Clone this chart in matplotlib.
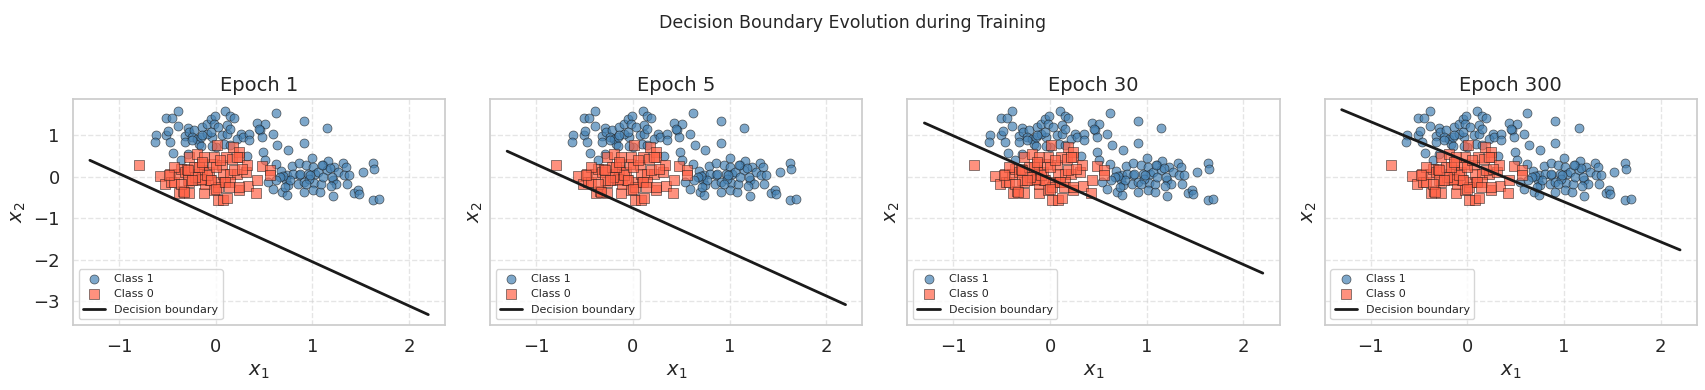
"""
Decision boundary evolution - 4 epochs, same data
"""

import numpy as np
import matplotlib.pyplot as plt
import seaborn as sns

# class 1 (blue circles)
c1_x = [-0.39, -0.51, -0.45, -0.62, -0.63, -0.51, -0.47, -0.39, -0.44, -0.32,
        -0.29, -0.28, -0.22, -0.24, -0.19, -0.17, -0.15, -0.14, -0.09, -0.05,
        -0.01, -0.02, 0.03, -0.04, 0.00, -0.04, 0.10, 0.15, 0.19, 0.07,
        0.12, 0.09, 0.15, 0.26, 0.22, 0.28, 0.35, 0.35, 0.43, 0.51,
        0.46, 0.48, 0.59, 0.62, 0.49, 0.32, 0.64, 0.75, 0.91, 0.91,
        1.15, -0.36, -0.29, -0.15, -0.09,
        -0.49, -0.32, -0.24, -0.05, 0.12, 0.15, 0.51, -0.14, 0.45,
        0.62, 0.68, 0.74, 0.73, 0.75, 0.69, 0.74, 0.59, 0.54, 0.79,
        0.86, 0.86, 0.85, 0.91, 0.91, 0.94, 1.00, 1.01, 1.03, 1.02,
        1.01, 1.08, 1.09, 1.11, 1.16, 1.15, 1.21, 1.21, 1.23, 1.27,
        1.32, 1.35, 1.33, 1.38, 1.36, 1.43, 1.47, 1.48, 1.52, 1.63,
        1.64, 1.63, 1.69, 0.80, 0.77, 0.96, 1.06, 1.18, 0.70, 0.97,
        1.11, 1.20, 0.98, 1.25, 0.67, 0.72, 1.19, 0.87, 1.10, 0.63, 0.94]
c1_y = [1.58, 1.42, 1.42, 1.00, 0.84, 1.00, 0.85, 1.22, 0.58, 0.98,
        1.17, 1.08, 1.12, 0.96, 0.92, 0.80, 0.74, 1.20, 1.28, 1.40,
        1.48, 1.28, 1.20, 0.96, 0.72, 0.74, 1.58, 1.48, 1.42, 1.00,
        1.04, 0.80, 0.76, 1.04, 0.92, 0.96, 1.04, 0.88, 1.30, 1.28,
        1.12, 0.96, 1.04, 1.54, 0.60, 0.50, 0.78, 0.66, 1.34, 0.82,
        1.18, 0.40, 0.56, 0.96, 1.04,
        1.10, 0.84, 0.88, 1.08, 1.24, 1.16, 0.40, 1.00, 1.16,
        0.30, 0.14, 0.04, -0.08, -0.20, -0.36, -0.44, -0.28, -0.12, 0.26,
        0.34, 0.04, -0.18, -0.12, -0.36, 0.28, 0.46, 0.24, 0.08, -0.14,
        -0.32, -0.36, -0.16, 0.28, 0.38, 0.16, -0.08, -0.46, 0.24, 0.12,
        0.34, 0.24, 0.04, 0.04, -0.16, -0.40, -0.32, -0.42, 0.12, 0.34,
        0.20, -0.56, -0.54, 0.08, -0.08, 0.08, 0.12, 0.22, 0.02, -0.04,
        0.00, 0.00, 0.04, -0.16, 0.00, -0.24, -0.22, 0.06, 0.28, -0.08, -0.16]

# class 0 (red squares)
c0_x = [-0.79, -0.57, -0.52, -0.47, -0.46, -0.43, -0.39, -0.38, -0.34, -0.36,
        -0.32, -0.30, -0.27, -0.27, -0.27, -0.19, -0.18, -0.16, -0.14, -0.14,
        -0.12, -0.11, -0.07, -0.06, -0.03, -0.02, -0.02, 0.01, 0.02, 0.03,
        0.07, 0.08, 0.08, 0.09, 0.11, 0.12, 0.15, 0.17, 0.18, 0.22,
        0.24, 0.24, 0.24, 0.31, 0.33, 0.34, 0.42, 0.43, 0.48, 0.56,
        0.56, -0.15, -0.22, -0.21, -0.09, 0.00, 0.05, 0.02, 0.15, 0.19,
        0.27, -0.12, -0.43, -0.29, -0.36,
        -0.33, -0.29, -0.17, -0.14, -0.05, 0.00, 0.10, 0.14, 0.22, 0.24,
        -0.24, -0.48]
c0_y = [0.28, 0.02, -0.16, 0.06, -0.12, -0.12, 0.08, -0.38, -0.34, 0.20,
        0.12, 0.20, -0.40, -0.12, 0.48, 0.56, 0.08, -0.08, 0.16, 0.32,
        -0.40, -0.16, 0.12, -0.08, 0.32, 0.48, -0.32, 0.76, -0.56, -0.12,
        0.28, 0.08, -0.56, -0.12, 0.48, -0.52, 0.08, 0.44, 0.72, 0.08,
        0.60, 0.48, -0.32, 0.12, 0.28, -0.22, -0.38, -0.08, 0.26, 0.16,
        0.04, -0.04, 0.24, 0.00, 0.04, 0.24, 0.40, -0.24, -0.12, 0.16,
        0.20, 0.48, 0.24, -0.08, -0.16,
        -0.36, 0.16, 0.24, 0.36, -0.08, -0.30, -0.12, -0.24, 0.48, -0.24,
        -0.08, 0.04]

# decision boundary endpoints per epoch
epochs = [1, 5, 30, 300]
line_x = [-1.3, 2.2]
line_y_start = [0.40, 0.62, 1.30, 1.62]
line_y_end = [-3.32, -3.08, -2.32, -1.76]

sns.set_theme(style="whitegrid")
plt.rcParams["font.family"] = ["DejaVu Sans"]

fig, axes = plt.subplots(1, 4, figsize=(17.05, 3.9), dpi=100, sharey=True)
fig.subplots_adjust(left=0.0428, right=0.9953, top=0.745, bottom=0.167, wspace=0.121)

for i, ax in enumerate(axes):
    ax.scatter(c1_x, c1_y, c="steelblue", marker="o", s=42, alpha=0.7,
               edgecolors="#1a1a1a", linewidths=0.5, label="Class 1")
    ax.scatter(c0_x, c0_y, c="tomato", marker="s", s=42, alpha=0.7,
               edgecolors="#1a1a1a", linewidths=0.5, label="Class 0")
    ax.plot(line_x, [line_y_start[i], line_y_end[i]], color="k", lw=2,
            label="Decision boundary")
    ax.set_title(f"Epoch {epochs[i]}", fontsize=14)
    ax.set_xlabel("$x_1$", fontsize=14)
    ax.set_ylabel("$x_2$", fontsize=14)
    ax.tick_params(labelsize=13)
    ax.grid(True, linestyle="--", alpha=0.5)
    ax.legend(loc="lower left", fontsize=8)

fig.suptitle("Decision Boundary Evolution during Training", fontsize=12.5, y=0.965)
plt.savefig("out.png", dpi=100)
plt.close()
